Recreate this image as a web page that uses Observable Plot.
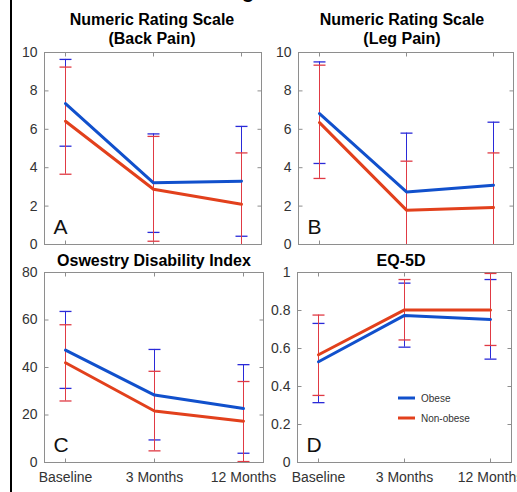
<!DOCTYPE html>
<html>
<head>
<meta charset="utf-8">
<script src="https://cdn.jsdelivr.net/npm/d3@7"></script>
<script src="https://cdn.jsdelivr.net/npm/@observablehq/plot@0.6"></script>
<style>
  html, body { margin: 0; padding: 0; background: #fff; }
  #root { position: relative; width: 517px; height: 492px; overflow: hidden; font-family: "Liberation Sans", Arial, Helvetica, sans-serif; }
  .panel { position: absolute; }
  #overlay { position: absolute; left: 0; top: 0; pointer-events: none; }
</style>
</head>
<body>
<div id="root"></div>
<script>
// ---------- data ----------
const timepoints = ["Baseline", "3 Months", "12 Months"];
const groups = ["Obese", "Non-obese"];

// A: Numeric Rating Scale (Back Pain)
const backObeseMean = [7.34, 3.21, 3.30];
const backObeseLow  = [5.12, 0.63, 0.43];
const backObeseHigh = [9.64, 5.76, 6.15];
const backNonMean   = [6.42, 2.88, 2.10];
const backNonLow    = [3.66, 0.17, -0.57];
const backNonHigh   = [9.24, 5.63, 4.77];

// B: Numeric Rating Scale (Leg Pain)
const legObeseMean = [6.82, 2.74, 3.09];
const legObeseLow  = [4.22, -0.32, -0.19];
const legObeseHigh = [9.51, 5.80, 6.37];
const legNonMean   = [6.35, 1.79, 1.93];
const legNonLow    = [3.44, -0.76, -0.90];
const legNonHigh   = [9.34, 4.34, 4.77];

// C: Oswestry Disability Index
const odiObeseMean = [47.3, 28.4, 22.7];
const odiObeseLow  = [31.2, 9.5, 3.9];
const odiObeseHigh = [63.6, 47.6, 41.2];
const odiNonMean   = [42.0, 21.7, 17.4];
const odiNonLow    = [25.9, 4.9, 0.4];
const odiNonHigh   = [58.0, 38.4, 34.1];

// D: EQ-5D
const eqObeseMean = [0.530, 0.774, 0.753];
const eqObeseLow  = [0.315, 0.607, 0.544];
const eqObeseHigh = [0.732, 0.944, 0.963];
const eqNonMean   = [0.567, 0.803, 0.803];
const eqNonLow    = [0.353, 0.645, 0.616];
const eqNonHigh   = [0.776, 0.963, 0.995];

const ticksNRS = [0, 2, 4, 6, 8, 10];
const ticksODI = [0, 20, 40, 60, 80];
const ticksEQ  = [0, 0.2, 0.4, 0.6, 0.8, 1];

// ---------- styles ----------
const lineColor = {"Obese": "#1150cc", "Non-obese": "#e2401c"};
const barColor  = {"Obese": "#2a2ad8", "Non-obese": "#e03a44"};
const frameColor = "#8e8e8e";
const textColor = "#333";
const FONT = '"Liberation Sans", Arial, Helvetica, sans-serif';

function rows(mean, low, high, group) {
  return timepoints.map((t, i) => ({t, group, mean: mean[i], low: low[i], high: high[i]}));
}

const capSymbol = {draw(ctx, size) { const r = Math.sqrt(size / Math.PI); ctx.moveTo(-r, 0); ctx.lineTo(r, 0); }};
const tickRight = {draw(ctx, size) { const r = Math.sqrt(size / Math.PI); ctx.moveTo(0, 0); ctx.lineTo(r, 0); }};
const tickLeft  = {draw(ctx, size) { const r = Math.sqrt(size / Math.PI); ctx.moveTo(0, 0); ctx.lineTo(-r, 0); }};
const tickUp    = {draw(ctx, size) { const r = Math.sqrt(size / Math.PI); ctx.moveTo(0, 0); ctx.lineTo(0, -r); }};
const tickDown  = {draw(ctx, size) { const r = Math.sqrt(size / Math.PI); ctx.moveTo(0, 0); ctx.lineTo(0, r); }};

const ML = 40, MR = 6, MT = 6;

function panel({obese, non, domain, ticks, letter, frame, bottomAxis}) {
  const MB = bottomAxis ? 30 : 6;
  const groupsData = [obese, non];
  const marks = [
    Plot.frame({stroke: frameColor}),
    Plot.axisY({ticks, tickSize: 0, tickPadding: 7, fontSize: 14, color: textColor, tickFormat: d => String(d), label: null}),
    Plot.dot(ticks, {y: d => d, frameAnchor: "left", symbol: tickRight, r: 4, stroke: frameColor, strokeWidth: 1}),
    Plot.dot(ticks, {y: d => d, frameAnchor: "right", symbol: tickLeft, r: 4, stroke: frameColor, strokeWidth: 1}),
    Plot.dot(timepoints, {x: d => d, frameAnchor: "top", symbol: tickDown, r: 4, stroke: frameColor, strokeWidth: 1}),
    Plot.dot(timepoints, {x: d => d, frameAnchor: "bottom", symbol: tickUp, r: 4, stroke: frameColor, strokeWidth: 1}),
  ];
  if (bottomAxis) marks.push(Plot.axisX({tickSize: 0, tickPadding: 10, fontSize: 14, color: textColor, label: null}));
  for (const data of groupsData) {
    const g = data[0].group;
    marks.push(
      Plot.ruleX(data, {x: "t", y1: "low", y2: "high", stroke: barColor[g], strokeWidth: 1, clip: true}),
      Plot.dot(data, {x: "t", y: "high", symbol: capSymbol, r: 6, stroke: barColor[g], strokeWidth: 1.3, clip: true}),
      Plot.dot(data, {x: "t", y: "low", symbol: capSymbol, r: 6, stroke: barColor[g], strokeWidth: 1.3, clip: true})
    );
  }
  for (const data of groupsData) {
    const g = data[0].group;
    marks.push(Plot.line(data, {x: "t", y: "mean", stroke: lineColor[g], strokeWidth: 3}));
  }
  marks.push(Plot.text([letter], {text: d => d, frameAnchor: "bottom-left", textAnchor: "start", lineAnchor: "bottom", dx: 9, dy: -11, fontSize: 21, fill: "#111"}));

  const chart = Plot.plot({
    width: frame.w + ML + MR,
    height: frame.h + MT + MB,
    marginLeft: ML, marginRight: MR, marginTop: MT, marginBottom: MB,
    style: {background: "transparent", maxWidth: "none", overflow: "visible", fontFamily: FONT},
    x: {type: "point", domain: timepoints, padding: 0.23, axis: null},
    y: {domain, axis: null},
    marks
  });
  const div = document.createElement("div");
  div.className = "panel";
  div.style.left = (frame.x - ML) + "px";
  div.style.top = (frame.y - MT) + "px";
  div.appendChild(chart);
  document.getElementById("root").appendChild(div);
}

panel({obese: rows(backObeseMean, backObeseLow, backObeseHigh, groups[0]),
       non: rows(backNonMean, backNonLow, backNonHigh, groups[1]),
       domain: [0, 10], ticks: ticksNRS, letter: "A",
       frame: {x: 44, y: 52, w: 217, h: 192}, bottomAxis: false});
panel({obese: rows(legObeseMean, legObeseLow, legObeseHigh, groups[0]),
       non: rows(legNonMean, legNonLow, legNonHigh, groups[1]),
       domain: [0, 10], ticks: ticksNRS, letter: "B",
       frame: {x: 298, y: 52, w: 215, h: 192}, bottomAxis: false});
panel({obese: rows(odiObeseMean, odiObeseLow, odiObeseHigh, groups[0]),
       non: rows(odiNonMean, odiNonLow, odiNonHigh, groups[1]),
       domain: [0, 80], ticks: ticksODI, letter: "C",
       frame: {x: 44, y: 272, w: 219, h: 190}, bottomAxis: true});
panel({obese: rows(eqObeseMean, eqObeseLow, eqObeseHigh, groups[0]),
       non: rows(eqNonMean, eqNonLow, eqNonHigh, groups[1]),
       domain: [0, 1], ticks: ticksEQ, letter: "D",
       frame: {x: 297, y: 272, w: 214, h: 190}, bottomAxis: true});

// ---------- overlay: titles, legend, border ----------
const ns = "http://www.w3.org/2000/svg";
const svg = document.createElementNS(ns, "svg");
svg.setAttribute("id", "overlay");
svg.setAttribute("width", 517);
svg.setAttribute("height", 492);
svg.setAttribute("font-family", FONT);
function addText(txt, x, y, attrs) {
  const t = document.createElementNS(ns, "text");
  t.textContent = txt;
  t.setAttribute("x", x); t.setAttribute("y", y);
  for (const k in attrs) t.setAttribute(k, attrs[k]);
  svg.appendChild(t);
}
function addLine(x1, y1, x2, y2, stroke, w) {
  const l = document.createElementNS(ns, "line");
  l.setAttribute("x1", x1); l.setAttribute("y1", y1); l.setAttribute("x2", x2); l.setAttribute("y2", y2);
  l.setAttribute("stroke", stroke); l.setAttribute("stroke-width", w);
  svg.appendChild(l);
}
const titleAttrs = {"font-weight": "bold", "font-size": 16, "text-anchor": "middle", fill: "#000"};
addText("Numeric Rating Scale", 152, 25, titleAttrs);
addText("(Back Pain)", 152, 44, titleAttrs);
addText("Numeric Rating Scale", 402, 25, titleAttrs);
addText("(Leg Pain)", 402, 44, titleAttrs);
addText("Oswestry Disability Index", 154, 266, titleAttrs);
addText("EQ-5D", 401, 266, titleAttrs);
addText("g", 242, -2, {"font-weight": "bold", "font-size": 20, fill: "#000"});

// legend (panel D)
addLine(398, 398, 415, 398, lineColor["Obese"], 3);
addText(groups[0], 421, 401.5, {"font-size": 10, fill: textColor});
addLine(398, 418, 415, 418, lineColor["Non-obese"], 3);
addText(groups[1], 421, 421.5, {"font-size": 10, fill: textColor});

// left border
addLine(11, 0, 11, 492, "#000", 2);

document.getElementById("root").appendChild(svg);
</script>
</body>
</html>
